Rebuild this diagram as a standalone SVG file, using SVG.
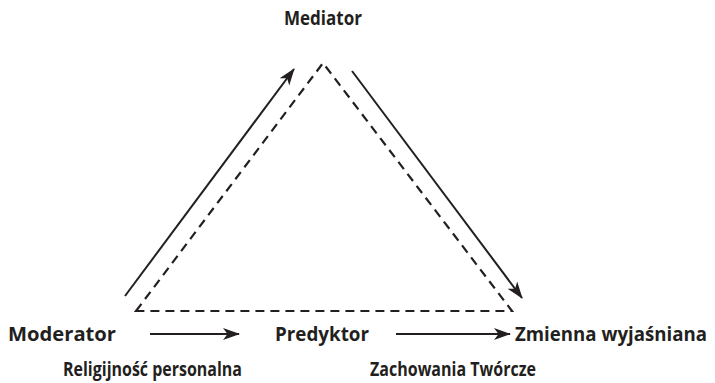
<svg xmlns="http://www.w3.org/2000/svg" width="715" height="383" viewBox="0 0 715 383">
<style>
.t{font-family:"Open Sans","Liberation Sans",sans-serif;font-weight:bold;font-size:19.5px;fill:#231f20}
.s{stroke:#231f20;stroke-width:2;fill:none}
.d{stroke:#231f20;stroke-width:2.2;fill:none;stroke-dasharray:9 6}
</style>
<defs>
<marker id="b" viewBox="0 0 17 13" refX="16" refY="6.5" markerWidth="17" markerHeight="13" markerUnits="userSpaceOnUse" orient="auto"><path d="M0,0.5 L17,6.5 L0,12.5 L4.5,6.5 Z" fill="#231f20"/></marker>
</defs>
<g id="connectors">
<path class="d" d="M136,311 L323,63 L512,311 Z"/>
<line class="s" x1="125" y1="296" x2="294" y2="69" marker-end="url(#b)"/>
<line class="s" x1="352" y1="71" x2="522" y2="298" marker-end="url(#b)"/>
<line class="s" x1="150" y1="334" x2="239" y2="334" marker-end="url(#b)"/>
<line class="s" x1="396" y1="334" x2="510" y2="334" marker-end="url(#b)"/>
</g>
<g id="mediator"><text class="t" x="284" y="25" textLength="78" lengthAdjust="spacingAndGlyphs">Mediator</text></g>
<g id="moderator"><text class="t" x="8" y="341" textLength="108" lengthAdjust="spacingAndGlyphs">Moderator</text></g>
<g id="predyktor"><text class="t" x="275" y="341" textLength="94" lengthAdjust="spacingAndGlyphs">Predyktor</text></g>
<g id="zmienna"><text class="t" x="515" y="341" textLength="192" lengthAdjust="spacingAndGlyphs">Zmienna wyjaśniana</text></g>
<g id="religijnosc"><text class="t" x="63" y="376" textLength="179" lengthAdjust="spacingAndGlyphs">Religijność personalna</text></g>
<g id="zachowania"><text class="t" x="370" y="376" textLength="166" lengthAdjust="spacingAndGlyphs">Zachowania Twórcze</text></g>
</svg>
